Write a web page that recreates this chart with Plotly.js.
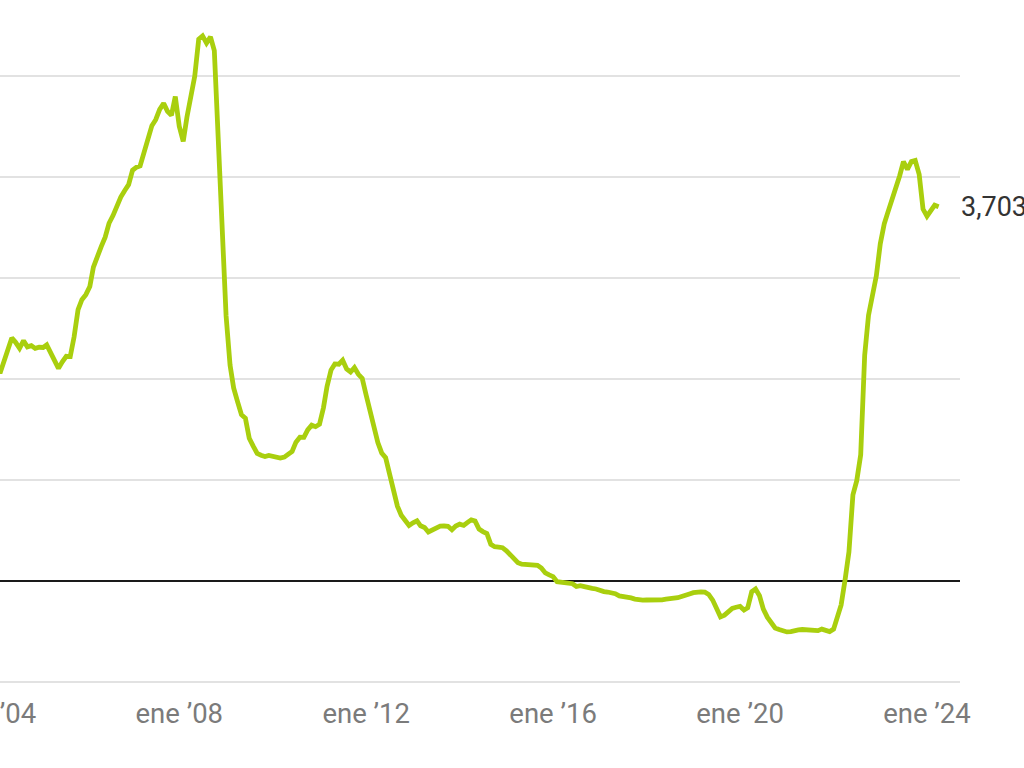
<!DOCTYPE html>
<html>
<head>
<meta charset="utf-8">
<script src="https://cdn.plot.ly/plotly-3.0.1.min.js"></script>
<style>
html, body { margin: 0; padding: 0; width: 1024px; height: 768px; overflow: hidden; background: #fff; }
#chart { position: absolute; left: -100px; top: 0; width: 1124px; height: 768px; }
</style>
</head>
<body>
<div id="chart"></div>
<script>
// Euribor 12M monthly averages (%)
const firstYear = 2004;
const y2004 = [2.222, 2.163, 2.055, 2.163, 2.297, 2.404, 2.361, 2.302, 2.377, 2.316, 2.328, 2.301];
const y2005 = [2.312, 2.310, 2.335, 2.265, 2.193, 2.103, 2.168, 2.223, 2.220, 2.414, 2.684, 2.783];
const y2006 = [2.833, 2.914, 3.105, 3.221, 3.308, 3.401, 3.539, 3.615, 3.715, 3.799, 3.864, 3.921];
const y2007 = [4.064, 4.094, 4.106, 4.253, 4.373, 4.505, 4.564, 4.666, 4.725, 4.647, 4.607, 4.793];
const y2008 = [4.498, 4.349, 4.590, 4.820, 4.994, 5.361, 5.393, 5.323, 5.384, 5.248, 4.350, 3.452];
const y2009 = [2.622, 2.135, 1.909, 1.771, 1.644, 1.610, 1.412, 1.334, 1.261, 1.243, 1.231, 1.242];
const y2010 = [1.232, 1.225, 1.215, 1.225, 1.249, 1.281, 1.373, 1.421, 1.420, 1.495, 1.541, 1.526];
const y2011 = [1.550, 1.714, 1.924, 2.086, 2.147, 2.144, 2.183, 2.097, 2.067, 2.110, 2.044, 2.004];
const y2012 = [1.837, 1.678, 1.499, 1.368, 1.266, 1.219, 1.061, 0.877, 0.740, 0.650, 0.588, 0.549];
const y2013 = [0.575, 0.594, 0.545, 0.528, 0.484, 0.507, 0.525, 0.542, 0.543, 0.541, 0.506, 0.543];
const y2014 = [0.562, 0.549, 0.577, 0.604, 0.592, 0.513, 0.488, 0.469, 0.362, 0.338, 0.335, 0.329];
const y2015 = [0.298, 0.255, 0.212, 0.180, 0.165, 0.163, 0.168, 0.161, 0.154, 0.128, 0.079, 0.059];
const y2016 = [0.042, -0.008, -0.012, -0.010, -0.013, -0.028, -0.056, -0.048, -0.057, -0.069, -0.074, -0.080];
const y2017 = [-0.095, -0.106, -0.110, -0.119, -0.127, -0.149, -0.154, -0.156, -0.168, -0.180, -0.189, -0.190];
const y2018 = [-0.189, -0.191, -0.191, -0.190, -0.188, -0.181, -0.180, -0.169, -0.166, -0.154, -0.147, -0.129];
const y2019 = [-0.116, -0.108, -0.109, -0.112, -0.134, -0.190, -0.283, -0.356, -0.339, -0.304, -0.272, -0.261];
const y2020 = [-0.253, -0.288, -0.266, -0.108, -0.081, -0.147, -0.279, -0.359, -0.415, -0.466, -0.481, -0.497];
const y2021 = [-0.505, -0.501, -0.487, -0.484, -0.481, -0.484, -0.491, -0.498, -0.492, -0.477, -0.487, -0.502];
const y2022 = [-0.477, -0.335, -0.237, 0.013, 0.287, 0.852, 0.992, 1.249, 2.233, 2.629, 2.828, 3.018];
const y2023 = [3.337, 3.534, 3.647, 3.757, 3.862, 4.007, 4.149, 4.073, 4.149, 4.160, 4.022, 3.679];
const y2024 = [3.609, 3.671, 3.718, 3.703];

const tickDates = ['2004-01-01', '2008-01-01', '2012-01-01', '2016-01-01', '2020-01-01', '2024-01-01'];
const tickLabels = ['ene \u201904', 'ene \u201908', 'ene \u201912', 'ene \u201916', 'ene \u201920', 'ene \u201924'];
const lastLabel = '3,703';

const years = [y2004, y2005, y2006, y2007, y2008, y2009, y2010, y2011, y2012, y2013, y2014,
               y2015, y2016, y2017, y2018, y2019, y2020, y2021, y2022, y2023, y2024];
const xs = [], ys = [];
years.forEach((arr, i) => {
  arr.forEach((v, m) => {
    const mm = String(m + 1).padStart(2, '0');
    xs.push((firstYear + i) + '-' + mm + '-01');
    ys.push(v);
  });
});

const trace = {
  x: xs, y: ys, type: 'scatter', mode: 'lines',
  line: { color: '#a9cf0e', width: 4.8, shape: 'linear' },
  hoverinfo: 'skip'
};

const layout = {
  width: 1124, height: 768,
  margin: { l: 40, r: 64, t: 15, b: 81 },
  paper_bgcolor: '#ffffff', plot_bgcolor: '#ffffff',
  showlegend: false,
  font: { family: 'Roboto, sans-serif' },
  xaxis: {
    type: 'date',
    range: ['2002-11-18', '2024-09-15'],
    tickvals: tickDates, ticktext: tickLabels,
    tickfont: { family: 'Roboto, sans-serif', size: 27.5, color: '#7b7b7b' },
    ticklabelstandoff: 7,
    showgrid: false, zeroline: false, showline: false, ticks: '',
    fixedrange: true
  },
  yaxis: {
    range: [-1.05, 5.6],
    tickvals: [-1, 0, 1, 2, 3, 4, 5],
    showticklabels: false,
    showgrid: true, gridcolor: '#e2e2e2', gridwidth: 2,
    zeroline: true, zerolinecolor: '#1a1a1a', zerolinewidth: 2,
    showline: false, ticks: '', fixedrange: true
  },
  annotations: [{
    x: xs[xs.length - 1], y: ys[ys.length - 1], xref: 'x', yref: 'y',
    text: lastLabel, showarrow: false, xanchor: 'left', yanchor: 'middle',
    xshift: 20,
    font: { family: 'Roboto, sans-serif', size: 27, color: '#333333' }
  }]
};

Plotly.newPlot('chart', [trace], layout, { staticPlot: true, displayModeBar: false });
</script>
</body>
</html>
